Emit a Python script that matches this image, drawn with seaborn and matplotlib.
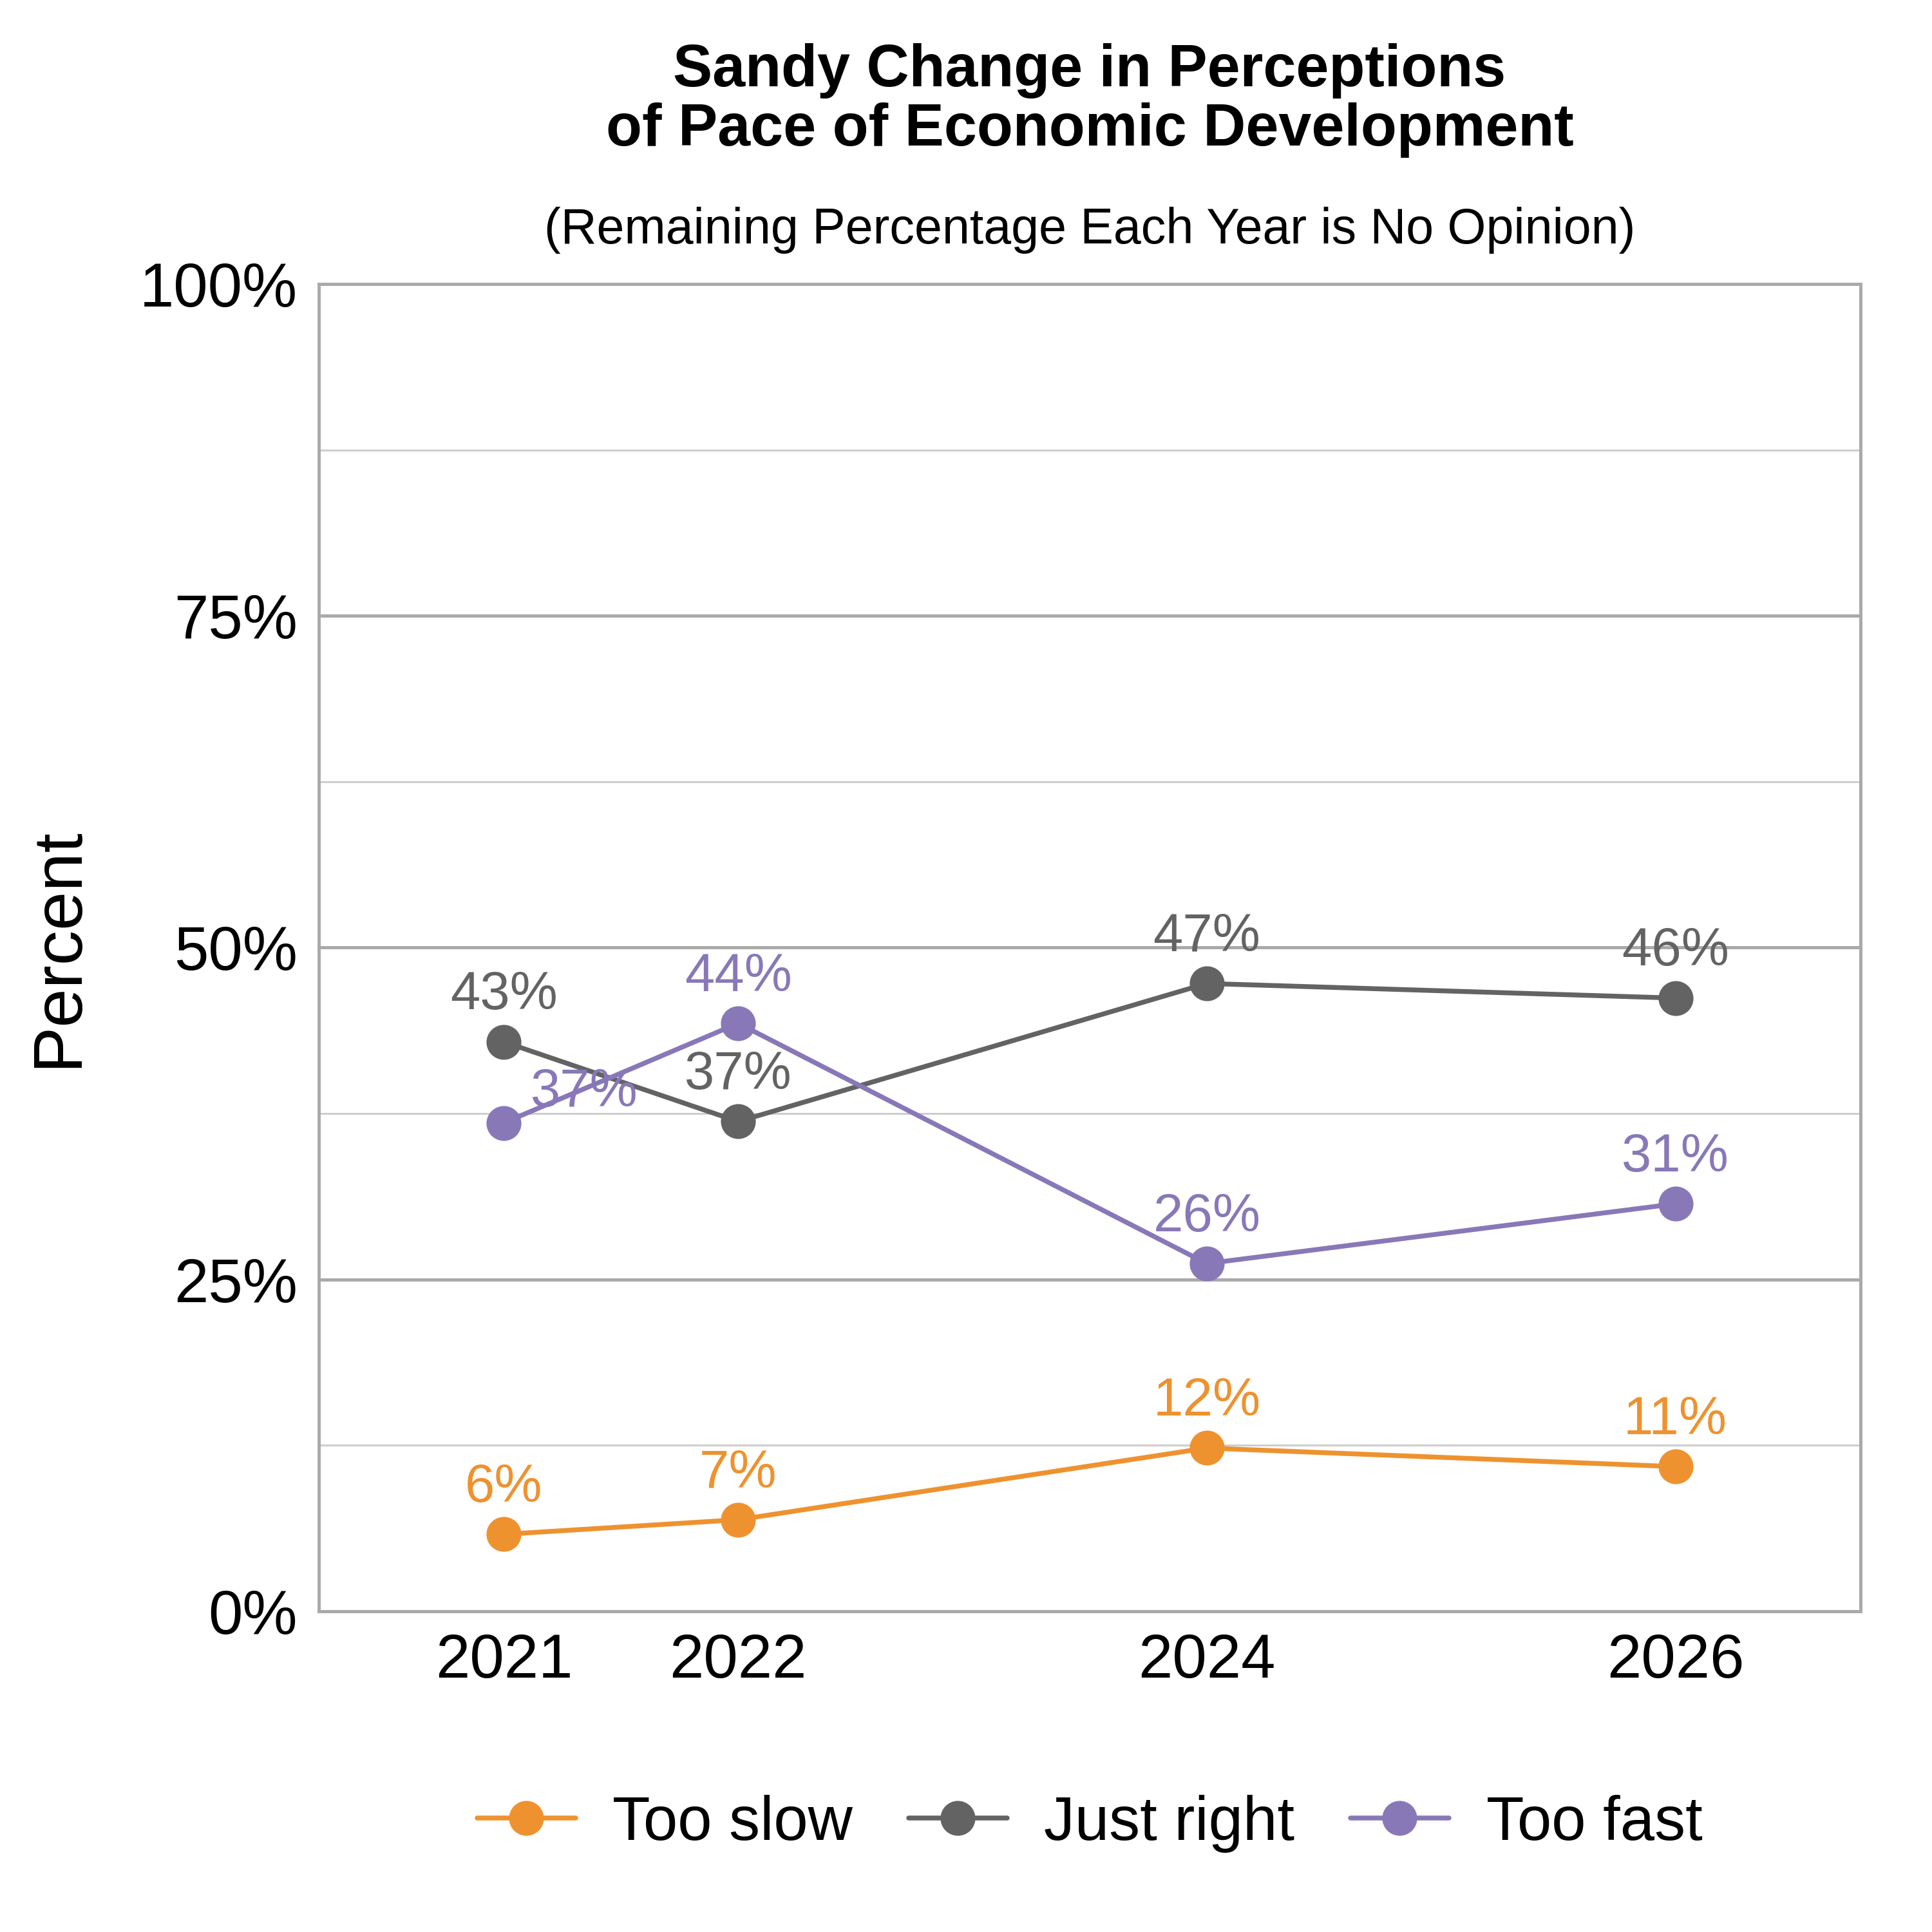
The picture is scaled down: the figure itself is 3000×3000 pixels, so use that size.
import matplotlib
matplotlib.use("Agg")
import matplotlib.pyplot as plt
import seaborn as sns
import pandas as pd
from matplotlib.ticker import MultipleLocator, FuncFormatter

years = [2021, 2022, 2024, 2026]
too_slow = [5.8, 6.9, 12.3, 10.9]
just_right = [42.9, 36.9, 47.3, 46.2]
too_fast = [36.8, 44.3, 26.2, 30.7]
series_names = ["Too slow", "Just right", "Too fast"]
colors = ["#EE922F", "#636363", "#8878B8"]

df = pd.DataFrame({"Year": years * 3,
                   "Value": too_slow + just_right + too_fast,
                   "Series": sum([[n] * 4 for n in series_names], [])})

sns.set_style("white")
plt.rcParams['font.family'] = ['Liberation Sans', 'DejaVu Sans']
plt.rcParams['text.color'] = 'black'
plt.rcParams['xtick.color'] = 'black'
plt.rcParams['ytick.color'] = 'black'
plt.rcParams['axes.labelcolor'] = 'black'

fig = plt.figure(figsize=(10, 10), dpi=300)
ax = fig.add_axes([0.165, 0.166, 0.798, 0.687])
sns.lineplot(data=df, x="Year", y="Value", hue="Series", palette=colors,
             marker="o", markersize=13, markeredgewidth=0, linewidth=1.8, ax=ax, zorder=3)

for si, (name, vals, c) in enumerate(zip(series_names, [too_slow, just_right, too_fast], colors)):
    for i, (x, v) in enumerate(zip(years, vals)):
        off = (0, 8)
        if si == 2 and i == 0:
            off = (30, 2)
        ax.annotate(f"{round(v)}%", (x, v), xytext=off, textcoords="offset points",
                    ha="center", va="bottom", fontsize=20, color=c, zorder=4)

ax.set_xlim(2020.21, 2026.79)
ax.set_ylim(0, 100)
ax.set_xticks(years)
ax.yaxis.set_major_locator(MultipleLocator(25))
ax.yaxis.set_minor_locator(MultipleLocator(12.5))
ax.yaxis.set_major_formatter(FuncFormatter(lambda v, p: f"{v:.0f}%"))
ax.grid(axis="y", which="major", color="#AAAAAA", linewidth=1.2)
ax.grid(axis="y", which="minor", color="#CCCCCC", linewidth=0.7)
ax.tick_params(axis="both", labelsize=23, length=0, pad=8)
for s in ax.spines.values():
    s.set_color("#AAAAAA")
    s.set_linewidth(1.2)
ax.set_xlabel("")
ax.set_ylabel("Percent", fontsize=26, labelpad=18)

fig.text(0.564, 0.948, "Sandy Change in Perceptions\nof Pace of Economic Development",
         ha="center", va="center", fontsize=22, fontweight="bold", linespacing=1.1)
fig.text(0.564, 0.881, "(Remaining Percentage Each Year is No Opinion)",
         ha="center", va="center", fontsize=18.5)

h, l = ax.get_legend_handles_labels()
ax.legend(h, l, loc="center", bbox_to_anchor=(0.5, -0.16), ncol=3, frameon=False,
          fontsize=23, handlelength=1.6, columnspacing=0.9, handletextpad=0.6)

fig.savefig("out.png", dpi=300)
